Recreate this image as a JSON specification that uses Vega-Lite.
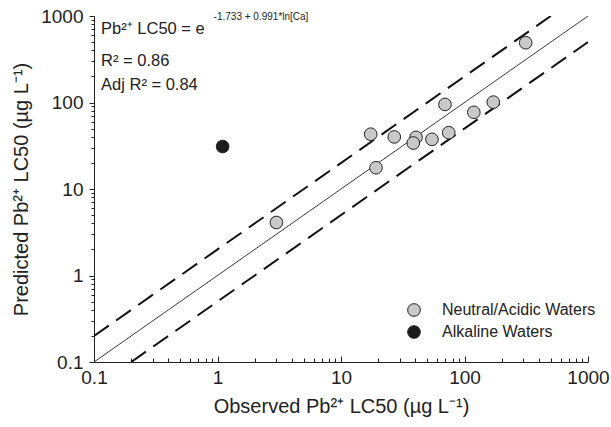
{
  "$schema": "https://vega.github.io/schema/vega-lite/v6.json",
  "width": 494,
  "height": 346,
  "autosize": {"type": "none"},
  "padding": {"left": 94, "top": 16, "right": 23, "bottom": 65},
  "background": "white",
  "config": {
    "view": {"stroke": null},
    "font": "Liberation Sans",
    "axis": {"domainColor": "#222", "tickColor": "#222", "labelColor": "#222", "titleColor": "#222", "grid": false, "labelFont": "Liberation Sans", "titleFont": "Liberation Sans", "titleFontWeight": "normal"}
  },
  "datasets": {
    "obs": [
      {"observed": 3.0, "predicted": 4.1, "group": "Neutral/Acidic Waters"},
      {"observed": 19.2, "predicted": 17.6, "group": "Neutral/Acidic Waters"},
      {"observed": 17.4, "predicted": 43, "group": "Neutral/Acidic Waters"},
      {"observed": 27, "predicted": 40, "group": "Neutral/Acidic Waters"},
      {"observed": 40.5, "predicted": 39.5, "group": "Neutral/Acidic Waters"},
      {"observed": 38.5, "predicted": 34, "group": "Neutral/Acidic Waters"},
      {"observed": 54.5, "predicted": 37.5, "group": "Neutral/Acidic Waters"},
      {"observed": 74.5, "predicted": 44.8, "group": "Neutral/Acidic Waters"},
      {"observed": 69.5, "predicted": 95, "group": "Neutral/Acidic Waters"},
      {"observed": 119, "predicted": 77, "group": "Neutral/Acidic Waters"},
      {"observed": 171, "predicted": 101, "group": "Neutral/Acidic Waters"},
      {"observed": 313, "predicted": 491, "group": "Neutral/Acidic Waters"},
      {"observed": 1.1, "predicted": 31, "group": "Alkaline Waters"}
    ],
    "lines": [
      {"line": "1:1", "observed": 0.1, "predicted": 0.1},
      {"line": "1:1", "observed": 1000, "predicted": 1000},
      {"line": "upper", "observed": 0.1, "predicted": 0.2},
      {"line": "upper", "observed": 500, "predicted": 1000},
      {"line": "lower", "observed": 0.2, "predicted": 0.1},
      {"line": "lower", "observed": 1000, "predicted": 500}
    ]
  },
  "layer": [
    {
      "data": {"name": "lines"},
      "transform": [{"filter": "datum.line === '1:1'"}],
      "mark": {"type": "line", "color": "#222", "strokeWidth": 0.9, "clip": true},
      "encoding": {
        "x": {"field": "observed", "type": "quantitative", "scale": {"type": "log", "domain": [0.1, 1000]}},
        "y": {"field": "predicted", "type": "quantitative", "scale": {"type": "log", "domain": [0.1, 1000]}},
        "detail": {"field": "line"}
      }
    },
    {
      "data": {"name": "lines"},
      "transform": [{"filter": "datum.line !== '1:1'"}],
      "mark": {"type": "line", "color": "#111", "strokeWidth": 2, "strokeDash": [18, 9], "clip": true},
      "encoding": {
        "x": {"field": "observed", "type": "quantitative"},
        "y": {"field": "predicted", "type": "quantitative"},
        "detail": {"field": "line"}
      }
    },
    {
      "data": {"name": "obs"},
      "mark": {"type": "point", "shape": "circle", "filled": true, "stroke": "#222", "strokeWidth": 1, "size": 160, "opacity": 1},
      "encoding": {
        "x": {
          "field": "observed", "type": "quantitative",
          "scale": {"type": "log", "domain": [0.1, 1000]},
          "axis": {
            "title": "Observed Pb²⁺ LC50 (µg L⁻¹)",
            "titleFontSize": 20,
            "titlePadding": 7,
            "labelFontSize": 19,
            "values": [0.1,0.2,0.3,0.4,0.5,0.6,0.7,0.8,0.9,1,2,3,4,5,6,7,8,9,10,20,30,40,50,60,70,80,90,100,200,300,400,500,600,700,800,900,1000],
            "labelExpr": "indexof([0.1,1,10,100,1000], datum.value) >= 0 ? format(datum.value, '~g') : ''",
            "tickSize": {"condition": {"test": "indexof([0.1,1,10,100,1000], datum.value) >= 0", "value": -6}, "value": -4},
            "labelPadding": 12,
            "labelOverlap": false,
            "labelFlush": false
          }
        },
        "y": {
          "field": "predicted", "type": "quantitative",
          "scale": {"type": "log", "domain": [0.1, 1000]},
          "axis": {
            "title": "Predicted Pb²⁺ LC50 (µg L⁻¹)",
            "titleFontSize": 20,
            "titlePadding": 9,
            "labelFontSize": 19,
            "values": [0.1,0.2,0.3,0.4,0.5,0.6,0.7,0.8,0.9,1,2,3,4,5,6,7,8,9,10,20,30,40,50,60,70,80,90,100,200,300,400,500,600,700,800,900,1000],
            "labelExpr": "indexof([0.1,1,10,100,1000], datum.value) >= 0 ? format(datum.value, '~g') : ''",
            "tickSize": {"condition": {"test": "indexof([0.1,1,10,100,1000], datum.value) >= 0", "value": 5}, "value": 3},
            "labelPadding": 6,
            "labelOverlap": false,
            "labelFlush": false
          }
        },
        "fill": {
          "field": "group", "type": "nominal",
          "scale": {"domain": ["Neutral/Acidic Waters", "Alkaline Waters"], "range": ["#c9c9c9", "#1c1c1c"]},
          "legend": {
            "title": null, "orient": "none", "legendX": 312, "legendY": 286,
            "symbolType": "circle", "symbolSize": 160, "symbolStrokeColor": "#222", "symbolStrokeWidth": 1,
            "labelFontSize": 16, "labelOffset": 20, "rowPadding": 4, "padding": 0, "labelColor": "#222", "labelFont": "Liberation Sans"
          }
        }
      }
    },
    {
      "data": {"values": [{}]},
      "mark": {"type": "text", "text": "Pb²⁺ LC50 = e", "align": "left", "baseline": "middle", "fontSize": 16.5, "color": "#222"},
      "encoding": {"x": {"datum": 0.114}, "y": {"datum": 708}}
    },
    {
      "data": {"values": [{}]},
      "mark": {"type": "text", "text": "-1.733 + 0.991*ln[Ca]", "align": "left", "baseline": "middle", "fontSize": 10, "color": "#222"},
      "encoding": {"x": {"datum": 0.93}, "y": {"datum": 972}}
    },
    {
      "data": {"values": [{}]},
      "mark": {"type": "text", "text": "R² = 0.86", "align": "left", "baseline": "middle", "fontSize": 16.5, "color": "#222"},
      "encoding": {"x": {"datum": 0.114}, "y": {"datum": 302}}
    },
    {
      "data": {"values": [{}]},
      "mark": {"type": "text", "text": "Adj R² = 0.84", "align": "left", "baseline": "middle", "fontSize": 16.5, "color": "#222"},
      "encoding": {"x": {"datum": 0.114}, "y": {"datum": 159}}
    }
  ]
}
